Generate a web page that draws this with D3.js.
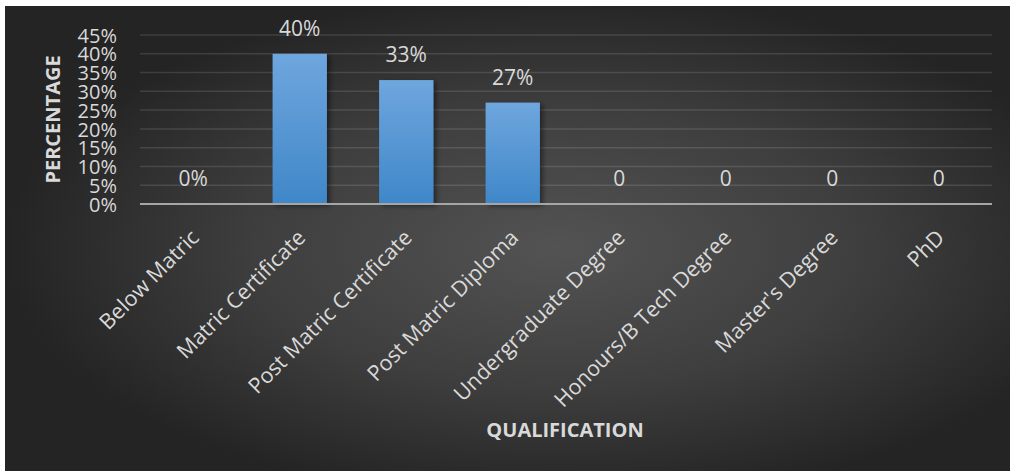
<!DOCTYPE html>
<html>
<head>
<meta charset="utf-8">
<script src="https://cdn.jsdelivr.net/npm/d3@7"></script>
<style>
  html, body { margin: 0; padding: 0; background: #ffffff; }
  svg { display: block; }
  text { font-family: "Open Sans", "Noto Sans", sans-serif; }
</style>
</head>
<body>
<svg id="chart" width="1010" height="471"></svg>
<script>
// Highest qualification held, share of respondents (%)
const categories = [
  "Below Matric",
  "Matric Certificate",
  "Post Matric Certificate",
  "Post Matric Diploma",
  "Undergraduate Degree",
  "Honours/B Tech Degree",
  "Master's Degree",
  "PhD"
];
const values = [0, 40, 33, 27, 0, 0, 0, 0];
const valueLabels = ["0%", "40%", "33%", "27%", "0", "0", "0", "0"];
const yTicks = [0, 5, 10, 15, 20, 25, 30, 35, 40, 45];
const xTitle = "QUALIFICATION";
const yTitle = "PERCENTAGE";

const W = 1010, H = 471;
const plot = { left: 140, right: 992, top: 35, bottom: 204 };

const svg = d3.select("#chart");
const defs = svg.append("defs");

// Dark radial background
const bg = defs.append("radialGradient")
  .attr("id", "bgGrad")
  .attr("cx", "0.55").attr("cy", "0.52").attr("r", "0.55")
  .attr("fx", "0.55").attr("fy", "0.52");
bg.append("stop").attr("offset", "0").attr("stop-color", "#535353");
bg.append("stop").attr("offset", "0.55").attr("stop-color", "#3e3e3e");
bg.append("stop").attr("offset", "1").attr("stop-color", "#242424");

// Bar fill: lighter blue at the top
const barGrad = defs.append("linearGradient")
  .attr("id", "barGrad")
  .attr("x1", "0").attr("y1", "0").attr("x2", "0").attr("y2", "1");
barGrad.append("stop").attr("offset", "0").attr("stop-color", "#6fa6de");
barGrad.append("stop").attr("offset", "1").attr("stop-color", "#3f87c8");

const shadow = defs.append("filter")
  .attr("id", "barShadow")
  .attr("x", "-20%").attr("y", "-10%").attr("width", "150%").attr("height", "130%");
shadow.append("feDropShadow")
  .attr("dx", 3).attr("dy", 2).attr("stdDeviation", 2.5)
  .attr("flood-color", "#000").attr("flood-opacity", 0.45);

svg.append("rect")
  .attr("x", 5).attr("y", 6)
  .attr("width", W - 5).attr("height", H - 6)
  .attr("fill", "url(#bgGrad)");

const x = d3.scaleBand()
  .domain(categories)
  .range([plot.left, plot.right])
  .paddingInner(0.49)
  .paddingOuter(0.245);

const y = d3.scaleLinear()
  .domain([0, 45])
  .range([plot.bottom, plot.top]);

// Horizontal gridlines
svg.append("g")
  .selectAll("line")
  .data(yTicks.filter(t => t > 0))
  .join("line")
  .attr("x1", plot.left).attr("x2", plot.right)
  .attr("y1", d => y(d)).attr("y2", d => y(d))
  .attr("stroke", "rgba(255,255,255,0.12)")
  .attr("stroke-width", 1.5);

// Y axis tick labels
const yAxis = d3.axisLeft(y)
  .tickValues(yTicks)
  .tickFormat(d => d + "%")
  .tickSize(0)
  .tickPadding(0);
const gy = svg.append("g")
  .attr("transform", `translate(${plot.left - 23},0)`)
  .call(yAxis);
gy.select(".domain").remove();
gy.selectAll("text")
  .attr("fill", "#d9d9d9")
  .attr("font-size", 20)
  .attr("dy", "0.36em");

// Bars
svg.append("g")
  .selectAll("rect")
  .data(categories.map((c, i) => ({ c, v: values[i] })))
  .join("rect")
  .filter(d => d.v > 0)
  .attr("x", d => x(d.c))
  .attr("width", x.bandwidth())
  .attr("y", d => y(d.v))
  .attr("height", d => y(0) - y(d.v))
  .attr("fill", "url(#barGrad)")
  .attr("filter", "url(#barShadow)");

// X axis baseline and category labels
const xAxis = d3.axisBottom(x).tickSize(0).tickPadding(0);
const gx = svg.append("g")
  .attr("transform", `translate(0,${plot.bottom})`)
  .call(xAxis);
gx.select(".domain")
  .attr("d", `M${plot.left},0H${plot.right}`)
  .attr("stroke", "#a6a6a6")
  .attr("stroke-width", 2);
gx.selectAll(".tick text")
  .attr("fill", "#d9d9d9")
  .attr("font-size", 21.5)
  .attr("text-anchor", "end")
  .attr("dy", null)
  .attr("y", null)
  .attr("transform", "translate(7,35) rotate(-45)");

// Value labels above each bar
svg.append("g")
  .selectAll("text")
  .data(categories.map((c, i) => ({ c, v: values[i], label: valueLabels[i] })))
  .join("text")
  .attr("x", d => x(d.c) + x.bandwidth() / 2)
  .attr("y", d => y(d.v) - 18)
  .attr("text-anchor", "middle")
  .attr("fill", "#d9d9d9")
  .attr("font-size", 21)
  .text(d => d.label);

// Axis titles
svg.append("text")
  .attr("transform", `translate(60,${(plot.top + plot.bottom) / 2}) rotate(-90)`)
  .attr("text-anchor", "middle")
  .attr("fill", "#d9d9d9")
  .attr("font-size", 20)
  .attr("font-weight", "bold")
  .text(yTitle);

svg.append("text")
  .attr("x", 565)
  .attr("y", 437)
  .attr("text-anchor", "middle")
  .attr("fill", "#d9d9d9")
  .attr("font-size", 20)
  .attr("font-weight", "bold")
  .text(xTitle);
</script>
</body>
</html>
